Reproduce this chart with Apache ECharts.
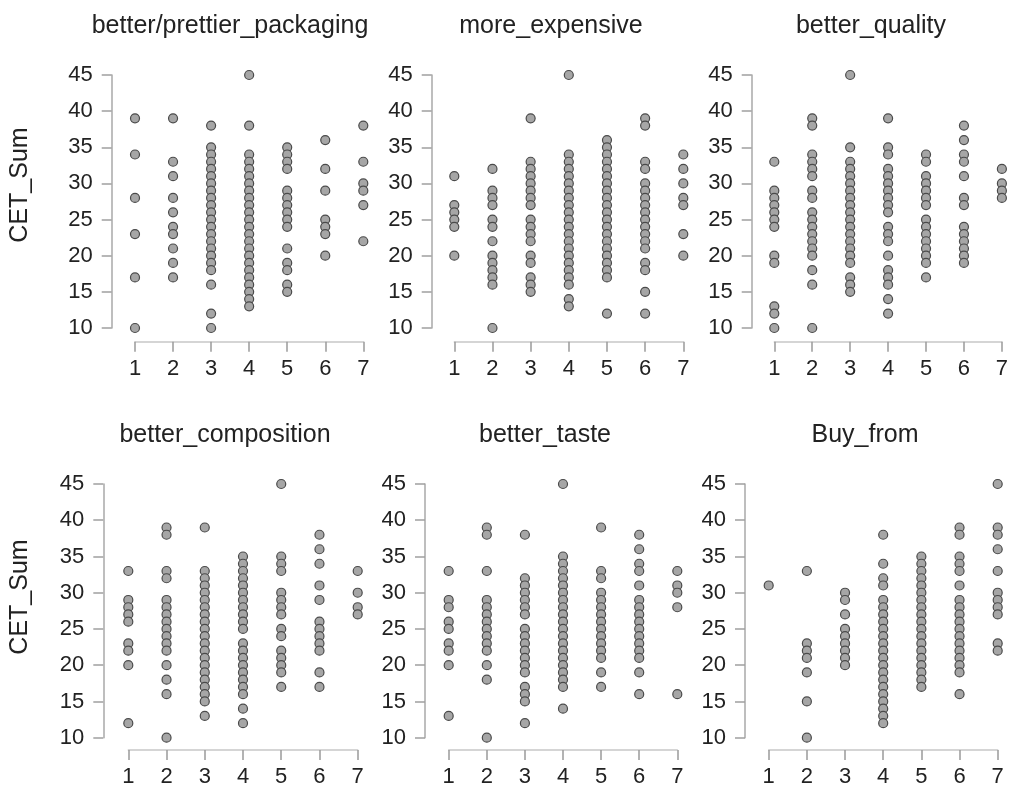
<!DOCTYPE html>
<html>
<head>
<meta charset="utf-8">
<script src="https://cdn.jsdelivr.net/npm/echarts@6/dist/echarts.min.js"></script>
<style>html,body{margin:0;padding:0;background:#fff}#c{width:1011px;height:792px}</style>
</head>
<body>
<div id="c"></div>
<script>
// Panel titles
var panelTitles = ['better/prettier_packaging','more_expensive','better_quality','better_composition','better_taste','Buy_from'];
var xLevels = [1,2,3,4,5,6,7];
var yTicks = [10,15,20,25,30,35,40,45];
var yAxisName = 'CET_Sum';

// CET_Sum values per response level (1..7) for each panel
var packaging = [
  [39,34,28,23,17,10],
  [39,33,31,28,26,24,23,21,19,17],
  [38,35,34,33,32,31,30,29,28,27,26,25,24,23,22,21,20,19,18,16,12,10],
  [45,38,34,33,32,31,30,29,28,27,26,25,24,23,22,21,20,19,18,17,16,15,14,13],
  [35,34,33,32,29,28,27,26,25,24,21,19,18,16,15],
  [36,32,29,25,24,23,20],
  [38,33,30,29,27,22]
];
var expensive = [
  [31,27,26,25,24,20],
  [32,29,28,27,25,24,22,20,19,18,17,16,10],
  [39,33,32,31,30,29,28,27,25,24,23,22,20,19,17,16,15],
  [45,34,33,32,31,30,29,28,27,26,25,24,23,22,21,20,19,18,17,16,14,13],
  [36,35,34,33,32,31,30,29,28,27,26,25,24,23,22,21,20,19,18,17,12],
  [39,38,33,32,30,29,28,27,26,25,24,23,22,21,19,18,15,12],
  [34,32,30,28,27,23,20]
];
var quality = [
  [33,29,28,27,26,25,24,20,19,13,12,10],
  [39,38,34,33,32,31,29,28,26,25,24,23,22,21,20,18,16,10],
  [45,35,33,32,31,30,29,28,27,26,25,24,23,22,21,20,19,17,16,15],
  [39,35,34,32,31,30,29,28,27,26,24,23,22,20,18,17,16,14,12],
  [34,33,31,30,29,28,27,25,24,23,22,21,20,19,17],
  [38,36,34,33,31,28,27,24,23,22,21,20,19],
  [32,30,29,28]
];
var composition = [
  [33,29,28,27,26,23,22,20,12],
  [39,38,33,32,29,28,27,26,25,24,23,22,20,18,16,10],
  [39,33,32,31,30,29,28,27,26,25,24,23,22,21,20,19,18,17,16,15,13],
  [35,34,33,32,31,30,29,28,27,26,25,23,22,21,20,19,18,17,16,14,12],
  [45,35,34,33,30,29,28,27,25,24,22,21,20,19,17],
  [38,36,34,31,29,26,25,24,23,22,19,17],
  [33,30,28,27]
];
var taste = [
  [33,29,28,26,25,23,22,20,13],
  [39,38,33,29,28,27,26,25,24,23,22,20,18,10],
  [38,32,31,30,29,28,27,25,24,23,22,21,20,19,17,16,15,12],
  [45,35,34,33,32,31,30,29,28,27,26,25,24,23,22,21,20,19,18,17,14],
  [39,33,32,30,29,28,27,26,25,24,23,22,21,19,17],
  [38,36,34,33,31,29,28,27,26,25,24,23,22,21,19,16],
  [33,31,30,28,16]
];
var buyFrom = [
  [31],
  [33,23,22,21,19,15,10],
  [30,29,27,25,24,23,22,21,20],
  [38,34,32,31,29,28,27,26,25,24,23,22,21,20,19,18,17,16,15,14,13,12],
  [35,34,33,32,31,30,29,28,27,26,25,24,23,22,21,20,19,18,17],
  [39,38,35,34,33,31,29,28,27,26,25,24,23,22,21,20,19,16],
  [45,39,38,36,33,30,29,28,27,23,22]
];
var panelData = [packaging, expensive, quality, composition, taste, buyFrom];

// Layout (pixel positions of x=1..7 span, y=10..45 span, axis offsets)
var layout = [
  {l:135,   r:363.3, t:75,  b:328,   yOff:23.3, xOff:13.7, tx:225, ty:23},
  {l:454.3, r:683.3, t:75,  b:328,   yOff:22.6, xOff:13.7, tx:546, ty:23},
  {l:774.3, r:1004,  t:75,  b:328,   yOff:22.6, xOff:13.7, tx:866, ty:23},
  {l:128.3, r:357.7, t:484, b:737.7, yOff:25,   xOff:12.3, tx:220, ty:432},
  {l:448.7, r:677.3, t:484, b:737.7, yOff:23.7, xOff:12.3, tx:540, ty:432},
  {l:768.7, r:997.7, t:484, b:737.7, yOff:23.7, xOff:12.3, tx:860, ty:432}
];

var FONT = '"Liberation Sans", Arial, sans-serif';
var W = 1011, H = 792;
var grids = [], xAxes = [], yAxes = [], series = [], titles = [], graphics = [];

panelData.forEach(function (pd, i) {
  var L = layout[i];
  grids.push({left: L.l, top: L.t, width: L.r - L.l, height: L.b - L.t, containLabel: false});
  xAxes.push({
    type: 'value', gridIndex: i, min: 1, max: 7, interval: 1,
    offset: L.xOff,
    axisLine: {show: true, lineStyle: {color: '#c8c8c8', width: 1.5}},
    axisTick: {show: true, length: 10, lineStyle: {color: '#9a9a9a', width: 1.5}},
    axisLabel: {color: '#222', fontSize: 22, fontFamily: FONT, margin: 16},
    splitLine: {show: false}
  });
  yAxes.push({
    type: 'value', gridIndex: i, min: 10, max: 45, interval: 5,
    offset: L.yOff,
    axisLine: {show: true, lineStyle: {color: '#a8a8a8', width: 1.5}},
    axisTick: {show: true, length: 10, lineStyle: {color: '#a0a0a0', width: 1.5}},
    axisLabel: {color: '#222', fontSize: 22, fontFamily: FONT, margin: 19},
    splitLine: {show: false}
  });
  var pts = [];
  pd.forEach(function (vals, k) {
    vals.forEach(function (v) { pts.push([xLevels[k], v]); });
  });
  series.push({
    type: 'scatter', xAxisIndex: i, yAxisIndex: i, data: pts,
    symbol: 'circle', symbolSize: 9, clip: false,
    itemStyle: {color: '#a6a6a6', borderColor: '#4a4a4a', borderWidth: 1.2, opacity: 1},
    emphasis: {disabled: true}, silent: true, animation: false
  });
  titles.push({
    text: panelTitles[i], left: L.tx, top: L.ty - 14, textAlign: 'center',
    textStyle: {color: '#222', fontSize: 25, fontWeight: 'normal', fontFamily: FONT}
  });
});

graphics.push({type: 'text', x: 20, y: 185, rotation: Math.PI / 2,
  style: {text: yAxisName, align: 'center', verticalAlign: 'middle', fill: '#222', font: '25px ' + FONT}});
graphics.push({type: 'text', x: 20, y: 597, rotation: Math.PI / 2,
  style: {text: yAxisName, align: 'center', verticalAlign: 'middle', fill: '#222', font: '25px ' + FONT}});

var chart = echarts.init(document.getElementById('c'), null, {renderer: 'canvas', width: W, height: H});
chart.setOption({
  backgroundColor: '#fff',
  animation: false,
  title: titles,
  grid: grids,
  xAxis: xAxes,
  yAxis: yAxes,
  series: series,
  graphic: graphics
});
</script>
</body>
</html>
